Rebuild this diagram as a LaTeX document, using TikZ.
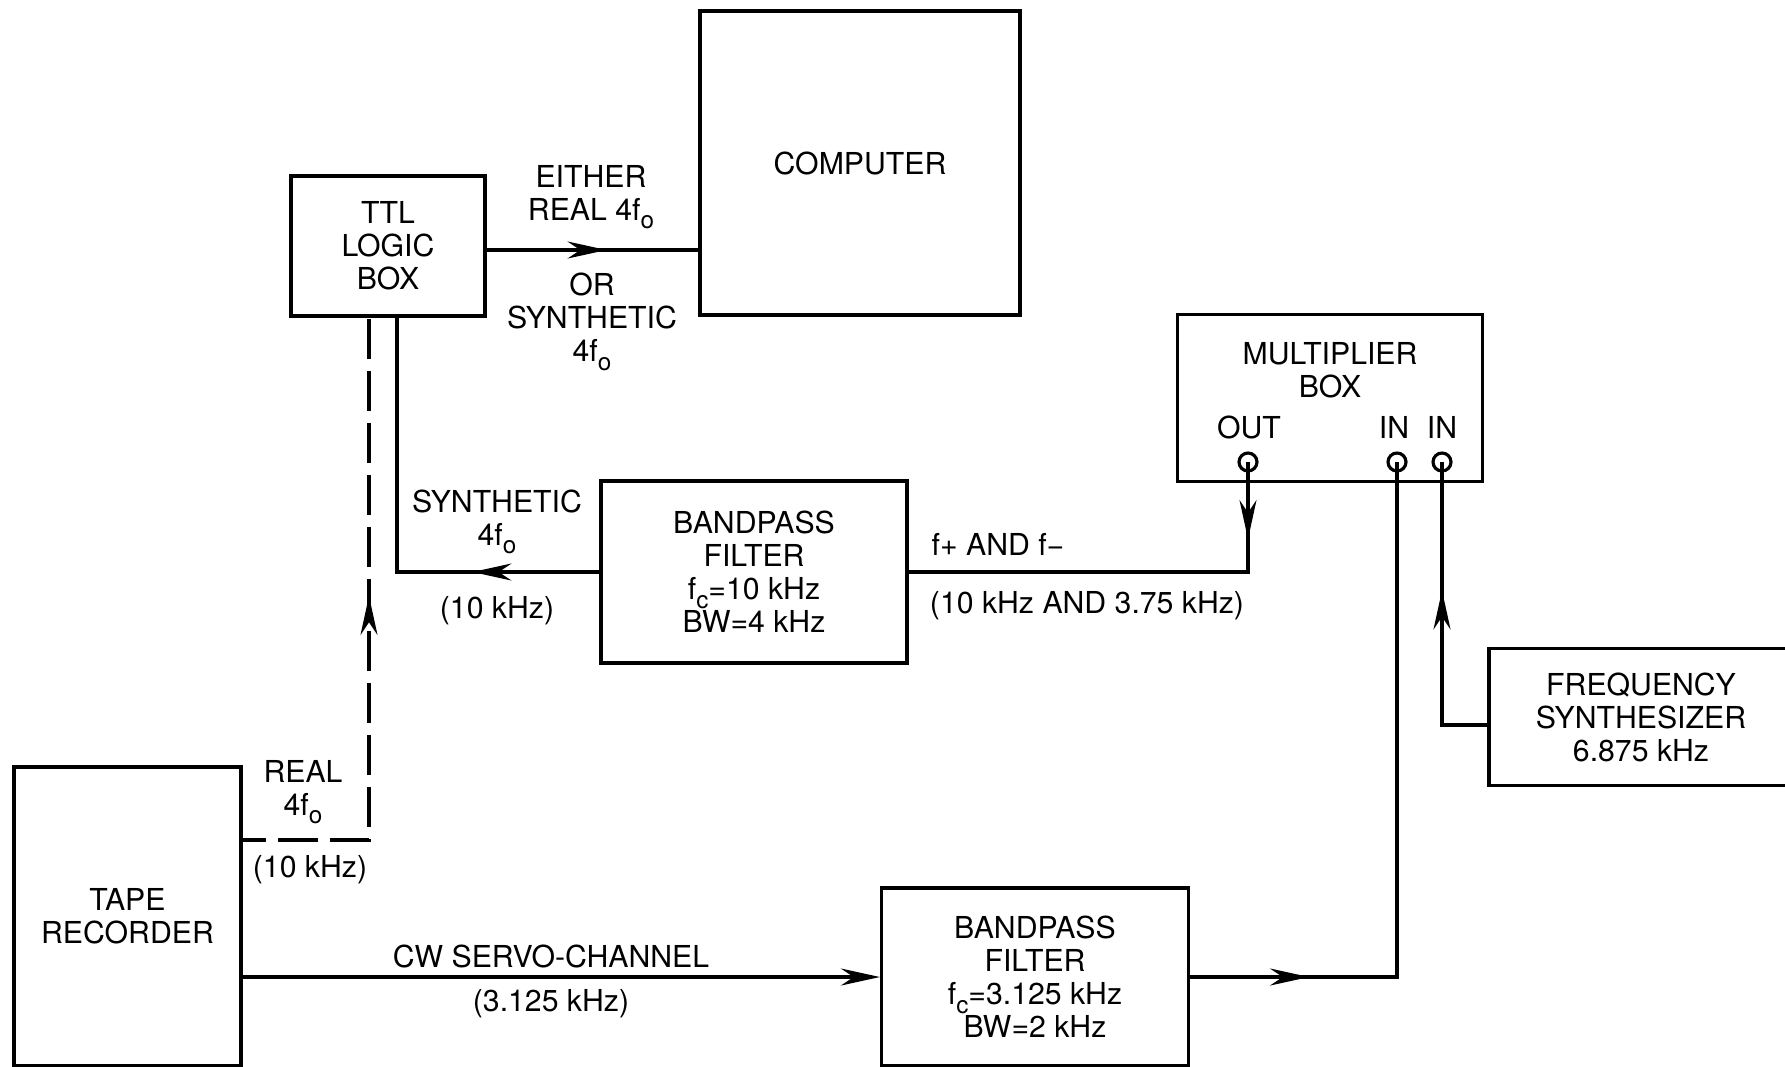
\documentclass[tikz,border=0pt]{standalone}
\usepackage{fontspec}
\setmainfont{TeX Gyre Heros}
\usetikzlibrary{arrows.meta,decorations.markings}
\newcommand{\fsub}[1]{f\raisebox{-2.4pt}{\fontsize{6.9}{7}\selectfont #1}}
\tikzset{
  blockbox/.style={draw,line width=0.9pt,inner sep=0pt,align=center},
  txt/.style={align=center,inner sep=0pt},
  jack/.style={draw,circle,line width=0.9pt,minimum size=1.8mm,inner sep=0pt},
  wire/.style={line width=0.9pt},
  midtip/.style={postaction={decorate},decoration={markings,
      mark=at position #1 with {\arrow{Stealth[length=3.9mm,width=1.7mm]}}}},
  every node/.style={font=\fontsize{8.6}{9.4}\selectfont}
}
\begin{document}
\begin{tikzpicture}[x=0.1mm,y=-0.1mm]
  \useasboundingbox (0,0) rectangle (1785,1066);
  % blocks
  \node[blockbox,minimum width=19.4mm,minimum height=14mm] (ttl) at (388,246) {TTL\\LOGIC\\BOX};
  \node[blockbox,minimum width=32mm,minimum height=30.4mm] (comp) at (860,163) {COMPUTER};
  \node[blockbox,minimum width=30.5mm,minimum height=16.7mm] (mult) at (1330,398) {};
  \node[txt] (multtxt) at (1330,370) {MULTIPLIER\\BOX};
  \node[blockbox,minimum width=30.6mm,minimum height=18.2mm] (bpfa) at (754,572)
    {BANDPASS\\FILTER\\\fsub{c}=10 kHz\\BW=4 kHz};
  \node[blockbox,minimum width=30.7mm,minimum height=17.8mm] (bpfb) at (1035,977)
    {BANDPASS\\FILTER\\\fsub{c}=3.125 kHz\\BW=2 kHz};
  \node[blockbox,minimum width=22.7mm,minimum height=29.9mm] (tape) at (127.5,916.5) {TAPE\\RECORDER};
  \node[blockbox,minimum width=30.4mm,minimum height=13.7mm] (synth) at (1641,717)
    {FREQUENCY\\SYNTHESIZER\\6.875 kHz};
  % jacks on the multiplier box
  \node[jack] (outjack) at (1248,462) {};
  \node[jack] (injacka) at (1397,462) {};
  \node[jack] (injackb) at (1442,462) {};
  \node[txt] (outlbl) at (1249,427) {OUT};
  \node[txt] (inlbla) at (1394,427) {IN};
  \node[txt] (inlblb) at (1442,427) {IN};
  % signal labels
  \node[txt] (eitherlbl) at (591,197) {EITHER\\REAL 4\fsub{o}};
  \node[txt] (orlbl) at (592,322) {OR\\SYNTHETIC\\4\fsub{o}};
  \node[txt] (synlbl) at (497,522) {SYNTHETIC\\4\fsub{o}};
  \node[txt] (synfreq) at (497,611) {(10 kHz)};
  \node[txt] (fpmlbl) at (998,544) {f+ AND f−};
  \node[txt] (fpmfreq) at (1087,606) {(10 kHz AND 3.75 kHz)};
  \node[txt] (reallbl) at (303,792) {REAL\\4\fsub{o}};
  \node[txt] (realfreq) at (310,870) {(10 kHz)};
  \node[txt] (cwlbl) at (551,956) {CW SERVO-CHANNEL};
  \node[txt] (cwfreq) at (551,1004) {(3.125 kHz)};
  % free ends
  \coordinate (synin) at (397,316);
  \coordinate (realin) at (369,316);
  \coordinate (realout) at (241,840);
  % connectors
  \draw[wire,midtip=12mm] ([yshift=-0.4mm]ttl.east) -- ([yshift=-0.4mm]ttl.east -| comp.west);
  \draw[wire,midtip=12.7mm] (bpfa.west) -| (synin);
  \draw[wire,dash pattern=on 4mm off 1.2mm,dash phase=1.5mm,midtip=37.2mm] (realout) -| (realin);
  \draw[wire,midtip=7.7mm] (outjack.center) |- (bpfa.east);
  \draw[wire,midtip=11.9mm] (bpfb.east) -| (injacka.center);
  \draw[wire,midtip=18mm] ([yshift=-0.8mm]synth.west) -| (injackb.center);
  \draw[wire,-{Stealth[length=3.9mm,width=1.7mm]}] (tape.east |- bpfb.west) -- (bpfb.west);
\end{tikzpicture}
\end{document}
